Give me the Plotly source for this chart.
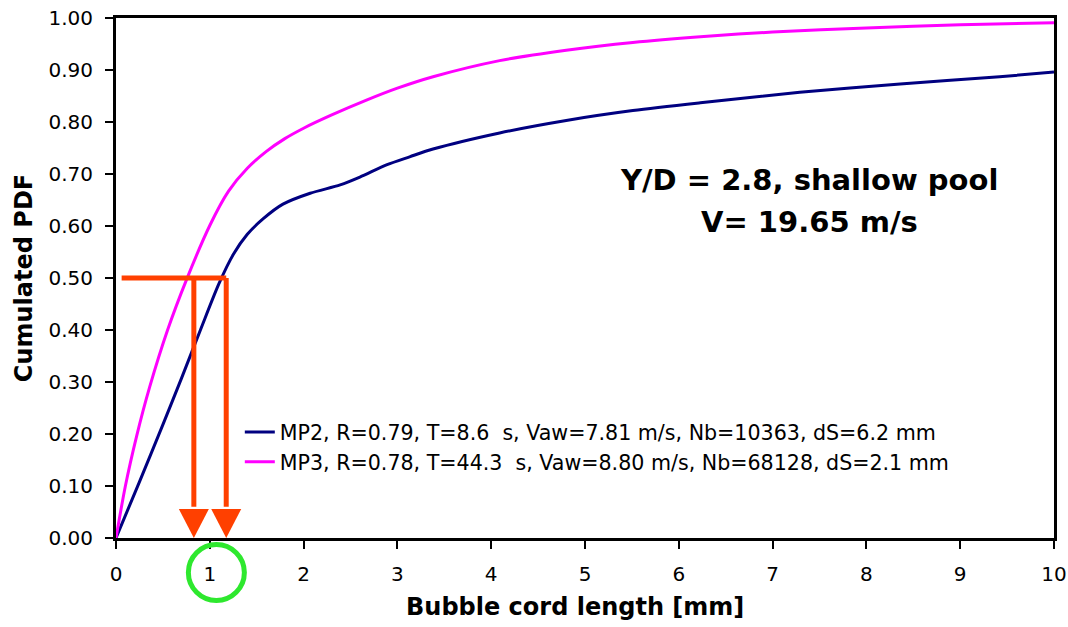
import plotly.graph_objects as go

# ---- data ----
mp2_x = [0, 0.25, 0.5, 0.7, 0.9, 1.1, 1.25, 1.4, 1.57, 1.78, 2.07, 2.39, 2.6, 2.89, 3.13, 3.38, 4.09, 4.8, 5.51, 6.23, 7.29, 8.36, 9.42, 10]
mp2_y = [0, 0.108, 0.218, 0.308, 0.40, 0.49, 0.545, 0.584, 0.614, 0.642, 0.663, 0.679, 0.694, 0.718, 0.733, 0.748, 0.779, 0.803, 0.822, 0.837, 0.857, 0.873, 0.887, 0.896]

mp3_x = [0, 0.1, 0.22, 0.36, 0.55, 0.75, 1.0, 1.2, 1.4, 1.6, 1.8, 2.0, 2.3, 2.67, 3.0, 3.38, 4.09, 4.8, 5.51, 6.23, 7, 8, 9, 10]
mp3_y = [0, 0.10, 0.196, 0.291, 0.40, 0.496, 0.601, 0.667, 0.711, 0.743, 0.768, 0.788, 0.8135, 0.842, 0.865, 0.887, 0.918, 0.938, 0.953, 0.964, 0.973, 0.981, 0.987, 0.991]

mp2_name = "MP2, R=0.79, T=8.6\u00a0 s, Vaw=7.81 m/s, Nb=10363, dS=6.2 mm"
mp3_name = "MP3, R=0.78, T=44.3\u00a0 s, Vaw=8.80 m/s, Nb=68128, dS=2.1 mm"

median_level = 0.5
median_mp3 = 0.83
median_mp2 = 1.175
bar_start = 0.06
circled_tick = 1.07

x_ticks = list(range(0, 11))
y_ticks = [i / 10 for i in range(0, 11)]

x_title = "Bubble cord length [mm]"
y_title = "Cumulated PDF"
title_line1 = "Y/D = 2.8, shallow pool"
title_line2 = "V= 19.65 m/s"

RED = "#FF4000"
GREEN = "#2EE82E"
FONT = "DejaVu Sans"

fig = go.Figure()
fig.add_trace(go.Scatter(x=mp2_x, y=mp2_y, mode="lines", name=mp2_name,
                         line=dict(color="#000080", width=3, shape="spline", smoothing=0.8)))
fig.add_trace(go.Scatter(x=mp3_x, y=mp3_y, mode="lines", name=mp3_name,
                         line=dict(color="#FF00FF", width=3, shape="spline", smoothing=0.8)))

# median construction lines
fig.add_shape(type="line", xref="x", yref="y", x0=bar_start, x1=median_mp2, y0=median_level, y1=median_level,
              line=dict(color=RED, width=5))
for xm in (median_mp3, median_mp2):
    fig.add_shape(type="line", xref="x", yref="y", x0=xm, x1=xm, y0=median_level, y1=0.06,
                  line=dict(color=RED, width=5))
    fig.add_shape(type="path", xref="x", yref="y", xsizemode="pixel", ysizemode="pixel",
                  xanchor=xm, yanchor=0, path="M -15,29 L 15,29 L 0,0 Z",
                  fillcolor=RED, line=dict(color=RED, width=0))

# green circle around tick "1"
fig.add_shape(type="circle", xref="x", yref="paper", xsizemode="pixel", ysizemode="pixel",
              xanchor=circled_tick, yanchor=0, x0=-28, x1=28, y0=-6.5, y1=-62.5,
              line=dict(color=GREEN, width=5))

fig.add_annotation(x=0.739, y=0.689, xref="paper", yref="paper", text=title_line1, showarrow=False,
                   font=dict(family=FONT, size=29, color="black", weight="bold"), xanchor="center", yanchor="middle")
fig.add_annotation(x=0.739, y=0.607, xref="paper", yref="paper", text=title_line2, showarrow=False,
                   font=dict(family=FONT, size=29, color="black", weight="bold"), xanchor="center", yanchor="middle")

# x-axis title (slightly left of plot centre, as in the reference)
fig.add_annotation(x=0.489, y=0, xref="paper", yref="paper", yshift=-69, text=x_title, showarrow=False,
                   font=dict(family=FONT, size=24, color="black", weight="bold"), xanchor="center", yanchor="middle")

fig.update_layout(
    width=1068, height=627,
    margin=dict(l=116, r=14, t=18, b=89),
    paper_bgcolor="white", plot_bgcolor="white",
    font=dict(family=FONT, size=20, color="black"),
    showlegend=True,
    legend=dict(x=0.132, y=0.242, xanchor="left", yanchor="top", bgcolor="rgba(0,0,0,0)",
                font=dict(family=FONT, size=20.6, color="black"), tracegroupgap=0),
    xaxis=dict(range=[0, 10], tickvals=x_ticks, showgrid=False, zeroline=False, automargin=False,
               showline=True, linecolor="black", linewidth=3, mirror=True,
               ticks="outside", ticklen=8, tickwidth=2, tickcolor="black",
               ticklabelstandoff=8),
    yaxis=dict(range=[0, 1], tickvals=y_ticks, tickformat=".2f", showgrid=False, zeroline=False, automargin=False,
               showline=True, linecolor="black", linewidth=3, mirror=True,
               ticks="outside", ticklen=8, tickwidth=2, tickcolor="black",
               ticklabelstandoff=8,
               title=dict(text=y_title, standoff=10,
                          font=dict(family=FONT, size=24, color="black", weight="bold"))),
)

fig.write_html("out.html")
